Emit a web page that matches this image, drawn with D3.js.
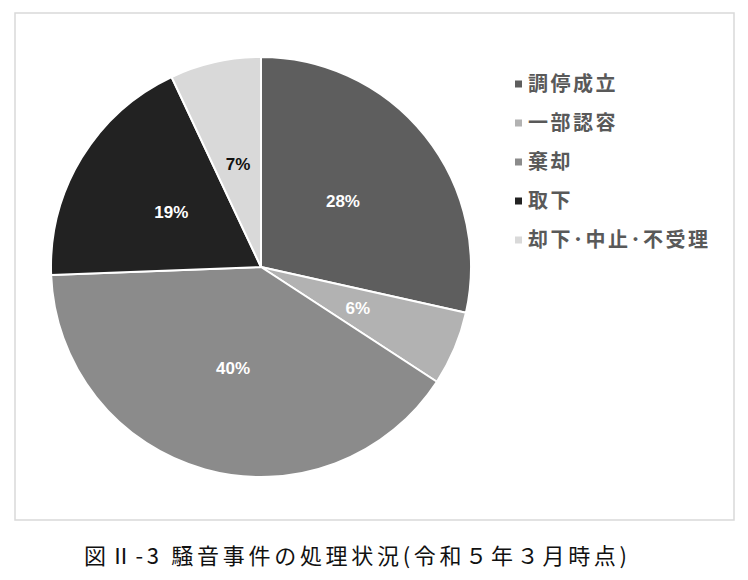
<!DOCTYPE html>
<html>
<head>
<meta charset="utf-8">
<script src="https://cdn.jsdelivr.net/npm/d3@7"></script>
<style>
  body { margin: 0; background: #fff; }
  svg { display: block; }
</style>
</head>
<body>
<div id="chart"></div>
<script>
// categories and their shares (%)
var categories = ["調停成立", "一部認容", "棄却", "取下", "却下･中止･不受理"];
var shares = [28.5, 5.7, 40.2, 18.6, 7.0];
var shareLabels = ["28%", "6%", "40%", "19%", "7%"];
var sliceColors = ["#5e5e5e", "#b2b2b2", "#8b8b8b", "#222222", "#d9d9d9"];
var labelColors = ["#ffffff", "#ffffff", "#ffffff", "#ffffff", "#111111"];

var caption = "図Ⅱ-3 騒音事件の処理状況(令和５年３月時点)";

var width = 748;
var height = 580;

var svg = d3.select("#chart")
  .append("svg")
  .attr("width", width)
  .attr("height", height);

// chart frame
svg.append("rect")
  .attr("x", 15)
  .attr("y", 13)
  .attr("width", 719)
  .attr("height", 507)
  .attr("fill", "none")
  .attr("stroke", "#d9d9d9")
  .attr("stroke-width", 1.5);

var cx = 261, cy = 267, radius = 210;

var pie = d3.pie().sort(null).value(function (d) { return d.v; });
var arc = d3.arc().innerRadius(0).outerRadius(radius);

var pieData = pie(categories.map(function (c, i) { return { name: c, v: shares[i], i: i }; }));

var g = svg.append("g").attr("transform", "translate(" + cx + "," + cy + ")");

g.selectAll("path.slice")
  .data(pieData)
  .enter()
  .append("path")
  .attr("class", "slice")
  .attr("d", arc)
  .attr("fill", function (d) { return sliceColors[d.data.i]; })
  .attr("stroke", "#ffffff")
  .attr("stroke-width", 2)
  .attr("stroke-linejoin", "round");

// percentage labels at the centroid of each slice
g.selectAll("text.pct")
  .data(pieData)
  .enter()
  .append("text")
  .attr("class", "pct")
  .attr("x", function (d) { return arc.centroid(d)[0]; })
  .attr("y", function (d) { return arc.centroid(d)[1]; })
  .attr("dy", "0.35em")
  .attr("text-anchor", "middle")
  .attr("font-family", "'Liberation Sans Narrow', 'Liberation Sans', Arial, sans-serif")
  .attr("font-weight", "bold")
  .attr("font-size", 17)
  .attr("fill", function (d) { return labelColors[d.data.i]; })
  .text(function (d) { return shareLabels[d.data.i]; });

// legend
var legendY = d3.scalePoint()
  .domain(categories)
  .range([84, 240]);

var legend = svg.append("g")
  .selectAll("g")
  .data(categories)
  .enter()
  .append("g")
  .attr("transform", function (d) { return "translate(515," + legendY(d) + ")"; });

legend.append("rect")
  .attr("x", 0)
  .attr("y", -3.5)
  .attr("width", 7)
  .attr("height", 7)
  .attr("fill", function (d, i) { return sliceColors[i]; });

legend.append("text")
  .attr("x", 13)
  .attr("dy", "0.36em")
  .attr("font-family", "'Noto Sans CJK JP', sans-serif")
  .attr("font-weight", "bold")
  .attr("font-size", 20)
  .attr("letter-spacing", 2.5)
  .attr("fill", "#595959")
  .text(function (d) { return d; });

// caption under the frame
svg.append("text")
  .attr("x", 84)
  .attr("y", 564)
  .attr("font-family", "'Noto Sans CJK JP', sans-serif")
  .attr("font-size", 22)
  .attr("fill", "#111111")
  .attr("textLength", 543)
  .attr("lengthAdjust", "spacing")
  .text(caption);
</script>
</body>
</html>
